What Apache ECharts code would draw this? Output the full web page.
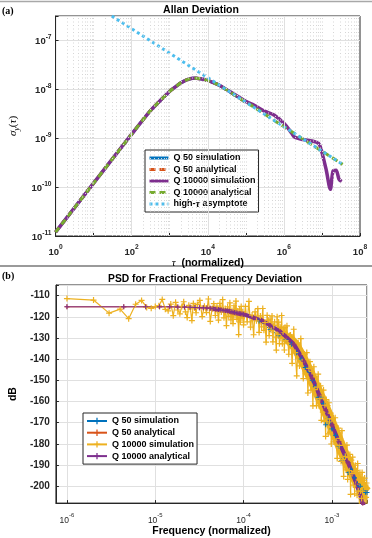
<!DOCTYPE html>
<html>
<head>
<meta charset="utf-8">
<script src="https://cdn.jsdelivr.net/npm/echarts@6/dist/echarts.min.js"></script>
<style>
html, body { margin: 0; padding: 0; background: #fff; }
#chart { width: 372px; height: 538px; }
</style>
</head>
<body>
<div id="chart"></div>
<script>
// (a) Allan deviation
var tauAna = [1, 10, 100, 300, 500, 1000, 1500, 2000, 3000, 4000, 5000, 7000, 1e4, 1.4e4, 2e4, 5e4, 1e5, 1.7e5, 1e6, 1e7, 3.5e7];
var sigmaAna = [1.2e-11, 1.2e-10, 1.2e-9, 3.5e-9, 5.3e-9, 9e-9, 1.15e-8, 1.35e-8, 1.57e-8, 1.66e-8, 1.67e-8, 1.6e-8, 1.5e-8, 1.35e-8, 1.2e-8, 7.6e-9, 5.4e-9, 4.2e-9, 1.7e-9, 5.4e-10, 2.9e-10];
var tauQ50 = [1, 10, 100, 300, 500, 1000, 1500, 2000, 3000, 4000, 5000, 7000, 1e4, 1.4e4, 2e4, 5e4, 1e5];
var sigmaQ50 = [1.2e-11, 1.2e-10, 1.2e-9, 3.5e-9, 5.3e-9, 9e-9, 1.15e-8, 1.35e-8, 1.57e-8, 1.66e-8, 1.67e-8, 1.6e-8, 1.5e-8, 1.35e-8, 1.2e-8, 7.6e-9, 5.4e-9];
var tauSim = [1, 10, 100, 300, 500, 1000, 1500, 2000, 3000, 4000, 5000, 7000, 1e4, 1.4e4, 2e4, 5e4, 1e5, 1.7e5, 3.2e5, 5.5e5, 1e6, 1.6e6, 1.9e6, 3.1e6, 5.5e6, 8.1e6, 9.8e6, 1.3e7, 1.66e7, 1.95e7, 2.35e7, 2.8e7, 3.3e7];
var sigmaSim = [1.2e-11, 1.2e-10, 1.2e-9, 3.5e-9, 5.3e-9, 9e-9, 1.15e-8, 1.35e-8, 1.57e-8, 1.66e-8, 1.67e-8, 1.6e-8, 1.5e-8, 1.35e-8, 1.2e-8, 7.8e-9, 5.6e-9, 4.6e-9, 3.5e-9, 2.95e-9, 2.0e-9, 1.26e-9, 1.05e-9, 9.3e-10, 8.7e-10, 7.8e-10, 5.4e-10, 2.2e-10, 9e-11, 2.1e-10, 2.2e-10, 1.45e-10, 1.3e-10];
var tauAsym = [30, 3.5e7];
var sigmaAsym = [3.1e-7, 2.9e-10];

// (b) PSD, frequency given as FFT bin index (bin width 1e-6)
var binWidth = 1e-6;
var simK = [1, 2, 3, 4, 5, 6, 7, 8, 9, 10, 11, 12, 13, 14, 15, 16, 17, 18, 19, 20, 21, 22, 23, 24, 25, 26, 27, 28, 29, 30,
    32, 34, 36, 38, 40, 42, 44, 46, 48, 50, 52, 54, 56, 58, 60, 62, 64, 66, 68, 70, 72, 74, 76, 78, 80, 82, 84, 86, 88, 90, 92, 94, 96, 98, 100,
    105, 110, 115, 120, 125, 130, 135, 140, 145, 150, 155, 160, 165, 170, 175, 180, 185, 190, 195, 200, 205, 210, 215, 220, 225, 230, 235, 240, 245, 250, 255, 260, 265, 270, 275, 280, 285, 290, 295, 300,
    310, 325, 340, 355, 370, 385, 400, 415, 430, 445, 460, 475, 490, 505, 520, 535, 550, 565, 580, 595, 610, 625, 640, 655, 670, 685, 700, 715, 730, 745, 760, 775, 790, 805, 820, 835, 850, 865, 880, 895, 910, 925, 940, 955, 970, 985, 1000,
    1030, 1060, 1090, 1120, 1150, 1180, 1210, 1240, 1270, 1300, 1330, 1360, 1390, 1420, 1450, 1480, 1510, 1540, 1570, 1600, 1630, 1660, 1690, 1720, 1750, 1780, 1810, 1840, 1870, 1900, 1930, 1960, 1990, 2020, 2050, 2080, 2110, 2140, 2170, 2200, 2230, 2260, 2290, 2320, 2350, 2380, 2410, 2440, 2470, 2500];
var simDb = [-111.4, -112.1, -118.3, -116.4, -120.9, -114.1, -112.3, -115.6, -116.0, -115.2, -114.8, -111.8, -116.5, -117.2, -114.0, -119.5, -113.2, -116.8, -118.6, -115.1, -112.9, -117.7, -120.4, -114.6, -116.3, -121.8, -113.7, -115.9, -118.1, -114.2,
    -112.3, -119.9, -115.0, -118.0, -111.6, -122.2, -116.2, -113.8, -119.4, -115.0, -121.6, -113.7, -117.8, -111.9, -120.5, -116.1, -124.2, -115.3, -119.8, -113.4, -121.5, -117.1, -123.2, -114.8, -119.5, -112.6, -121.2, -117.3, -128.4, -116.4, -122.5, -115.1, -120.6, -117.7, -123.8,
    -115.1, -122.4, -112.7, -124.9, -119.2, -128.5, -117.7, -121.9, -116.2, -127.4, -119.6, -124.8, -116.1, -126.4, -122.7, -132.0, -119.3, -121.6, -128.9, -121.1, -126.4, -119.6, -131.9, -124.1, -122.4, -129.6, -135.8, -120.0, -128.3, -122.5, -132.7, -124.9, -130.1, -119.4, -132.8, -127.1, -125.4, -135.7, -125.0, -131.3,
    -124.3, -137.7, -128.6, -142.0, -125.9, -136.9, -147.9, -132.3, -143.2, -130.3, -141.2, -149.2, -137.6, -147.0, -136.9, -156.0, -144.4, -141.2, -154.6, -145.8, -162.1, -143.6, -154.4, -148.4, -162.0, -153.2, -147.1, -162.0, -158.7, -152.6, -168.9, -157.1, -165.0, -154.6, -169.4, -161.8, -176.5, -159.1, -168.2, -162.0, -175.3, -160.6, -169.7, -174.6, -165.5, -180.1, -168.2,
    -168.1, -179.1, -167.7, -178.7, -186.9, -172.6, -180.7, -177.4, -188.3, -173.8, -187.4, -195.4, -180.8, -185.9, -192.3, -180.6, -196.8, -186.5, -192.7, -185.0, -203.9, -187.7, -194.0, -186.3, -199.5, -193.1, -203.6, -190.1, -199.1, -192.7, -204.3, -189.3, -202.3, -197.0, -208.6, -193.6, -202.3, -195.7, -205.8, -193.5, -202.3, -209.6, -197.2, -205.8, -196.2, -209.1, -199.5, -205.3, -198.5, -208.5];
// centre line of the solid part of the simulated band
var bandK = [300, 370, 480, 600, 720, 850, 1000, 1200, 1530, 1900, 2240, 2500];
var bandDb = [-129.3, -132.9, -141.0, -149.5, -157.0, -163.9, -171.0, -179.0, -189.5, -196.9, -201.0, -202.9];
var q50SimK = [150, 200, 250, 300, 350, 400, 450, 500, 550, 600, 650, 700, 750, 800, 851, 900, 950, 1000, 1100, 1200, 1290, 1400, 1531, 1650, 1800, 1950, 2100, 2250, 2400, 2500];
var q50SimDb = [-122, -126, -129, -131, -133, -137, -140, -144, -146, -150, -153, -158, -158, -161, -171, -168, -170, -173, -176, -181, -188, -186, -193.6, -192, -196, -199, -200, -202, -203, -203];
var anaK = [1, 4.4, 7.8, 11.2, 14.6, 18, 21.4, 24.8, 28.2, 31.6, 35, 38.4, 41.8, 45.2, 48.6, 52, 55.4, 58.8, 62.2, 65.6, 69, 72.4, 75.8, 79.2, 82.6, 86, 89.4, 92.8, 96.2, 99.6, 130, 160, 200, 260, 300, 370, 480, 600, 720, 850, 1000, 1200, 1530, 1900, 2240, 2500];
var anaDb = [-115.3, -115.3, -115.3, -115.3, -115.3, -115.4, -115.4, -115.5, -115.6, -115.7, -115.8, -115.9, -116.0, -116.2, -116.4, -116.6, -116.8, -116.9, -117.0, -117.2, -117.4, -117.6, -117.8, -118.0, -118.2, -118.4, -118.5, -118.6, -118.7, -118.8, -120.5, -121.7, -124.1, -127.0, -129.3, -133.0, -141.0, -149.0, -157.0, -164.0, -171.0, -179.0, -189.0, -199.0, -208.0, -214.0];

var FONT = '"Liberation Sans", Arial, sans-serif';
var SERIF = '"Liberation Serif", "DejaVu Serif", serif';
var plus = 'path://M4,0h2v4h4v2h-4v4h-2v-4h-4v-2h4z';

function pairs(xs, ys, scale) {
    return xs.map(function (x, i) { return [x * (scale || 1), ys[i]]; });
}
// 10^n labels, blank for anything that is not a whole decade
function decadeLabel(v, evenOnly) {
    var e = Math.log10(v);
    var r = Math.round(e);
    if (!isFinite(e) || Math.abs(e - r) > 1e-6) return '';
    if (evenOnly && r % 2 !== 0) return '';
    return '{b|10}{e|' + r + '}';
}
// dotted minor grid at 2..9 of every decade (MATLAB style)
function minorGrid(key, e0, e1, lo, hi) {
    var out = [];
    for (var e = e0; e <= e1; e++) {
        for (var m = 2; m <= 9; m++) {
            var v = m * Math.pow(10, e);
            if (v > lo && v < hi) {
                var item = {};
                item[key] = v;
                out.push(item);
            }
        }
    }
    return out;
}
var minorStyle = { color: '#d6d6d6', width: 1, type: [1, 2.5] };
var majorStyle = { color: '#e0e0e0', width: 1, type: 'solid' };

var topXMinor = minorGrid('xAxis', 0, 7, 1, 1e8).concat([{ xAxis: 10 }, { xAxis: 1e3 }, { xAxis: 1e5 }, { xAxis: 1e7 }]);
var topXMajor = [{ xAxis: 100, lineStyle: majorStyle }, { xAxis: 1e4, lineStyle: majorStyle }, { xAxis: 1e6, lineStyle: majorStyle }];
var topYMinor = minorGrid('yAxis', -11, -7, 1e-11, 3.1e-7);
var botXMinor = minorGrid('xAxis', -7, -3, 7.5e-7, 2.5e-3);

function gridSeries(xi, lines) {
    return {
        name: '_grid' + xi, type: 'line', xAxisIndex: xi, yAxisIndex: xi, data: [], z: 1,
        silent: true, animation: false,
        markLine: {
            silent: true, symbol: ['none', 'none'], animation: false,
            label: { show: false }, lineStyle: minorStyle, data: lines
        }
    };
}

var tickLabelRich = function (size, weight) {
    return {
        b: { fontSize: size, fontWeight: weight, fontFamily: FONT, color: '#262626', lineHeight: 13, verticalAlign: 'bottom' },
        e: { fontSize: size * 0.7, fontWeight: weight, fontFamily: FONT, color: '#262626', lineHeight: 7, verticalAlign: 'top' }
    };
};
var axisCommon = {
    axisLine: { lineStyle: { color: '#262626', width: 1 } },
    axisTick: { inside: true, length: 3, lineStyle: { color: '#262626' } }
};

var chart = echarts.init(document.getElementById('chart'), null, { renderer: 'canvas' });
chart.setOption({
    animation: false,
    backgroundColor: '#fff',
    grid: [
        { left: 42, top: 16, width: 318, height: 220, show: true, borderColor: '#262626', borderWidth: 1 },
        { left: 43, top: 285, width: 324, height: 226.6, show: true, borderColor: '#262626', borderWidth: 1 }
    ],
    xAxis: [{
        gridIndex: 0, type: 'log', logBase: 10, min: 1, max: 1e8,
        axisLine: axisCommon.axisLine, axisTick: axisCommon.axisTick,
        splitLine: { show: false },
        axisLabel: {
            margin: 8, formatter: function (v) { return decadeLabel(v, true); },
            rich: tickLabelRich(9.5, 'bold')
        },
        name: '{t|τ}{n|  (normalized)}', nameLocation: 'middle', nameGap: 17,
        nameTextStyle: {
            rich: {
                t: { fontFamily: SERIF, fontStyle: 'italic', fontSize: 11, color: '#000' },
                n: { fontFamily: FONT, fontWeight: 'bold', fontSize: 10.5, color: '#000' }
            }
        }
    }, {
        gridIndex: 1, type: 'log', logBase: 10, min: 7.5e-7, max: 2.5e-3,
        axisLine: axisCommon.axisLine, axisTick: axisCommon.axisTick,
        splitLine: { show: true, lineStyle: majorStyle },
        axisLabel: {
            margin: 9, formatter: function (v) { return decadeLabel(v, false); },
            rich: tickLabelRich(8.5, 'normal')
        },
        name: 'Frequency (normalized)', nameLocation: 'middle', nameGap: 19,
        nameTextStyle: { fontFamily: FONT, fontWeight: 'bold', fontSize: 10.5, color: '#000' }
    }],
    yAxis: [{
        gridIndex: 0, type: 'log', logBase: 10, min: 1e-11, max: 3.1e-7,
        axisLine: axisCommon.axisLine, axisTick: axisCommon.axisTick,
        splitLine: { show: true, lineStyle: majorStyle },
        axisLabel: {
            margin: 4, formatter: function (v) { return decadeLabel(v, false); },
            rich: tickLabelRich(9.5, 'bold')
        },
        name: '{s|σ}{y|y}{p|(}{s|τ}{p|)}', nameLocation: 'middle', nameGap: 28,
        nameTextStyle: {
            rich: {
                s: { fontFamily: SERIF, fontStyle: 'italic', fontSize: 11, color: '#000', lineHeight: 14 },
                y: { fontFamily: SERIF, fontStyle: 'italic', fontSize: 8, color: '#000', lineHeight: 8, verticalAlign: 'bottom' },
                p: { fontFamily: SERIF, fontSize: 11, color: '#000', lineHeight: 14 }
            }
        }
    }, {
        gridIndex: 1, type: 'value', min: -208, max: -105,
        splitNumber: 10, minInterval: 10, maxInterval: 10,
        axisLine: axisCommon.axisLine, axisTick: axisCommon.axisTick,
        splitLine: { show: true, lineStyle: majorStyle },
        axisLabel: {
            margin: 6, fontFamily: FONT, fontWeight: 'bold', fontSize: 10, color: '#262626',
            formatter: function (v) { return v % 10 === 0 ? String(v) : ''; }
        },
        name: 'dB', nameLocation: 'middle', nameGap: 27,
        nameTextStyle: { fontFamily: FONT, fontWeight: 'bold', fontSize: 10.5, color: '#000' }
    }],
    legend: [{
        data: ['Q 50 simulation', 'Q 50 analytical', 'Q 10000 simulation', 'Q 10000 analytical', 'high-τ asymptote'],
        orient: 'vertical', left: 145, top: 150, padding: [3, 3, 3, 3],
        itemWidth: 19, itemHeight: 8, itemGap: 1.5,
        itemStyle: { opacity: 0 },
        lineStyle: { width: 3 },
        backgroundColor: '#fff', borderColor: '#262626', borderWidth: 1, borderRadius: 0,
        selectedMode: false,
        textStyle: {
            fontFamily: FONT, fontWeight: 'bold', fontSize: 9, color: '#000', lineHeight: 10,
            rich: {
                n: { fontFamily: FONT, fontWeight: 'bold', fontSize: 9, color: '#000' },
                t: { fontFamily: SERIF, fontStyle: 'italic', fontSize: 10, color: '#000' }
            }
        },
        formatter: function (n) {
            return n === 'high-τ asymptote' ? '{n|high-}{t|τ}{n| asymptote}' : '{n|' + n + '}';
        }
    }, {
        data: ['Q 50 simulation ', 'Q 50 analytical ', 'Q 10000 simulation ', 'Q 10000 analytical '],
        orient: 'vertical', left: 83, top: 413, padding: [3, 3, 3, 3],
        itemWidth: 20, itemHeight: 8, itemGap: 1.7,
        backgroundColor: '#fff', borderColor: '#262626', borderWidth: 1, borderRadius: 0,
        selectedMode: false,
        textStyle: { fontFamily: FONT, fontWeight: 'bold', fontSize: 9, color: '#000', lineHeight: 10 },
        formatter: function (n) { return n.trim(); }
    }],
    graphic: [
        { type: 'line', shape: { x1: 0, y1: 1.5, x2: 372, y2: 1.5 }, style: { stroke: '#a8a8a8', lineWidth: 1.5 } },
        { type: 'line', shape: { x1: 0, y1: 266, x2: 372, y2: 266 }, style: { stroke: '#9a9a9a', lineWidth: 2 } },
        { type: 'text', x: 2, y: 11, style: { text: '(a)', font: 'bold 10px ' + SERIF, fill: '#000', verticalAlign: 'middle' } },
        { type: 'text', x: 2, y: 276, style: { text: '(b)', font: 'bold 10px ' + SERIF, fill: '#000', verticalAlign: 'middle' } },
        { type: 'text', x: 201, y: 10, style: { text: 'Allan Deviation', font: 'bold 10.5px ' + FONT, fill: '#000', align: 'center', verticalAlign: 'middle' } },
        { type: 'text', x: 205, y: 279, style: { text: 'PSD for Fractional Frequency Deviation', font: 'bold 10.3px ' + FONT, fill: '#000', align: 'center', verticalAlign: 'middle' } }
    ],
    series: [
        gridSeries(0, topXMinor.concat(topYMinor, topXMajor)),
        gridSeries(1, botXMinor),
        {
            name: 'Q 50 simulation', type: 'line', xAxisIndex: 0, yAxisIndex: 0, z: 2,
            data: pairs(tauQ50, sigmaQ50), symbol: 'none', smooth: 0.3,
            lineStyle: { color: '#0072BD', width: 3 }, itemStyle: { color: '#0072BD' }
        },
        {
            name: 'Q 50 analytical', type: 'line', xAxisIndex: 0, yAxisIndex: 0, z: 2,
            data: pairs(tauQ50, sigmaQ50), symbol: 'none', smooth: 0.3,
            lineStyle: { color: '#D95319', width: 3, type: [6, 4] }, itemStyle: { color: '#D95319' }
        },
        {
            name: 'Q 10000 simulation', type: 'line', xAxisIndex: 0, yAxisIndex: 0, z: 2,
            data: pairs(tauSim, sigmaSim), symbol: 'none', smooth: 0.3,
            lineStyle: { color: '#7E2F8E', width: 3.5 }, itemStyle: { color: '#7E2F8E' }
        },
        {
            name: 'Q 10000 analytical', type: 'line', xAxisIndex: 0, yAxisIndex: 0, z: 2,
            data: pairs(tauAna, sigmaAna), symbol: 'none', smooth: 0.3,
            lineStyle: { color: '#77AC30', width: 3, type: [6, 4] }, itemStyle: { color: '#77AC30' }
        },
        {
            name: 'high-τ asymptote', type: 'line', xAxisIndex: 0, yAxisIndex: 0, z: 2,
            data: pairs(tauAsym, sigmaAsym), symbol: 'none',
            lineStyle: { color: '#4DBEEE', width: 3, type: [3, 3] }, itemStyle: { color: '#4DBEEE' }
        },
        {
            name: 'Q 50 simulation ', type: 'line', xAxisIndex: 1, yAxisIndex: 1, z: 2,
            data: pairs(q50SimK, q50SimDb, binWidth), symbol: plus, symbolSize: 5, showAllSymbol: true,
            lineStyle: { color: '#0072BD', width: 1 }, itemStyle: { color: '#0072BD' }
        },
        {
            name: 'Q 50 analytical ', type: 'line', xAxisIndex: 1, yAxisIndex: 1, z: 2,
            data: pairs(anaK, anaDb, binWidth), symbol: plus, symbolSize: 5, showAllSymbol: true,
            lineStyle: { color: '#D95319', width: 1 }, itemStyle: { color: '#D95319' }
        },
        {
            name: 'Q 10000 simulation ', type: 'line', xAxisIndex: 1, yAxisIndex: 1, z: 2,
            data: pairs(simK, simDb, binWidth), symbol: plus, symbolSize: 6, showAllSymbol: true,
            lineStyle: { color: '#EDB120', width: 1.2 }, itemStyle: { color: '#EDB120' }
        },
        {
            // the thousands of overlapping simulated points form a solid band here
            name: 'Q 10000 simulation ', type: 'line', xAxisIndex: 1, yAxisIndex: 1, z: 2,
            data: pairs(bandK, bandDb, binWidth), symbol: 'none', smooth: 0.3,
            lineStyle: { color: '#EDB120', width: 11 }, itemStyle: { color: '#EDB120' }
        },
        {
            name: 'Q 10000 analytical ', type: 'line', xAxisIndex: 1, yAxisIndex: 1, z: 2,
            data: pairs(anaK, anaDb, binWidth), symbol: plus, symbolSize: 5, showAllSymbol: true,
            lineStyle: { color: '#7E2F8E', width: 1 }, itemStyle: { color: '#7E2F8E' }
        },
        {
            // dense markers of the analytical curve merge into a thick band
            name: 'Q 10000 analytical ', type: 'line', xAxisIndex: 1, yAxisIndex: 1, z: 2,
            data: pairs(anaK.slice(12), anaDb.slice(12), binWidth), symbol: 'none', smooth: 0.2,
            lineStyle: { color: '#7E2F8E', width: 4 }, itemStyle: { color: '#7E2F8E' }
        }
    ]
});
</script>
</body>
</html>
